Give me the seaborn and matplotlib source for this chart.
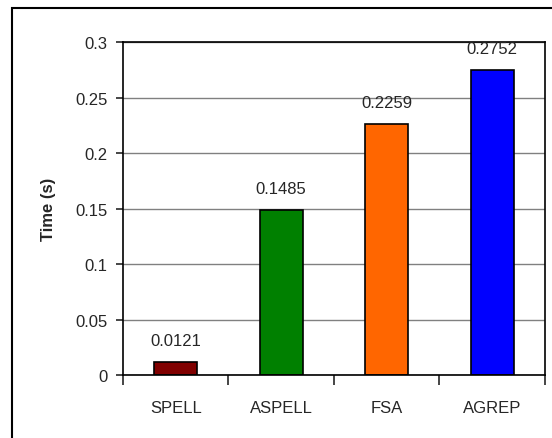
import pandas as pd
import seaborn as sns
import matplotlib.pyplot as plt
from matplotlib.patches import Rectangle

# values
methods = ['SPELL', 'ASPELL', 'FSA', 'AGREP']
times = [0.0121, 0.1485, 0.2259, 0.2752]
bar_colors = ['#800000', '#008000', '#FF6600', '#0000FF']
y_ticks = [0, 0.05, 0.1, 0.15, 0.2, 0.25, 0.3]
y_tick_labels = ['0', '0.05', '0.1', '0.15', '0.2', '0.25', '0.3']

df = pd.DataFrame({'method': methods, 'time': times})

sns.set_style('white')
plt.rcParams['font.family'] = ['Liberation Sans', 'DejaVu Sans']

fig = plt.figure(figsize=(5.52, 4.39), dpi=100)
ax = fig.add_axes([0.2228, 0.1435, 0.7645, 0.7585])

sns.barplot(data=df, x='method', y='time', hue='method', palette=bar_colors,
            saturation=1, width=0.41, edgecolor='black', linewidth=1.2,
            legend=False, ax=ax)

for c, v in zip(ax.containers, times):
    ax.bar_label(c, labels=[f'{v:.4f}'], padding=10, fontsize=12)

ax.set_ylim(0, 0.3)
ax.set_xlim(-0.5, 3.5)
ax.set_yticks(y_ticks)
ax.set_yticklabels(y_tick_labels)
ax.yaxis.grid(True, color='#808080', linewidth=1)
ax.set_axisbelow(True)

# ticks between categories, labels at centres
ax.set_xticks([-0.5, 0.5, 1.5, 2.5, 3.5], minor=True)
ax.tick_params(axis='x', which='major', length=0, pad=18, labelsize=12)
ax.tick_params(axis='x', which='minor', length=7, width=1.2, direction='out', bottom=True)
ax.tick_params(axis='y', length=5, width=1.2, direction='out', left=True, pad=6, labelsize=12)

for s in ax.spines.values():
    s.set_visible(True)
    s.set_color('black')
    s.set_linewidth(1.2)

ax.set_xlabel('')
ax.set_ylabel('Time (s)', fontsize=12, fontweight='bold', labelpad=14)

# outer chart frame
fig.patches.append(Rectangle((12 / 552, -0.05), 1.1, 1 - 9 / 439 + 0.05,
                             transform=fig.transFigure, fill=False,
                             edgecolor='black', linewidth=1.5))

fig.savefig('out.png', dpi=100)
